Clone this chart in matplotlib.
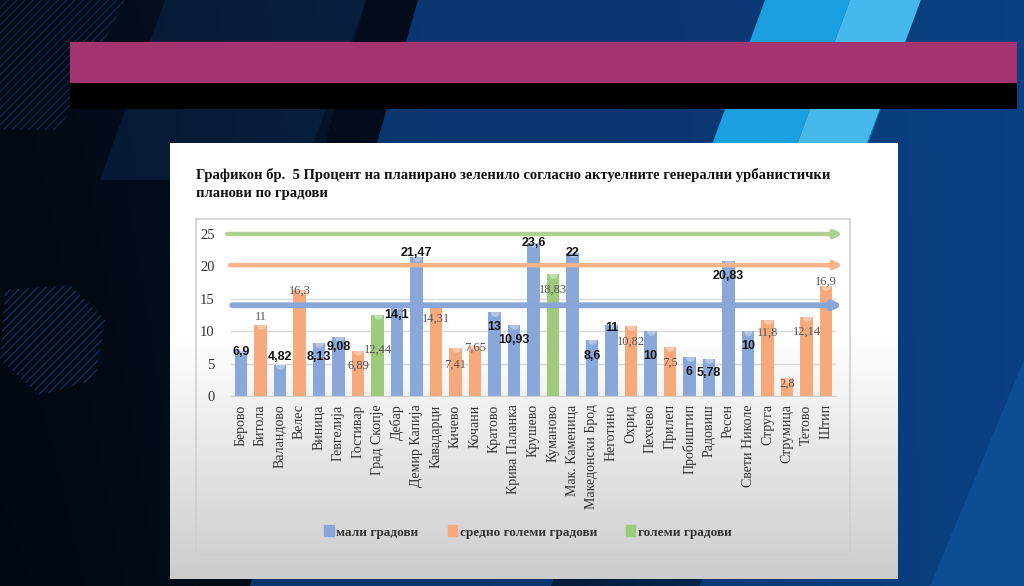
import numpy as np
import matplotlib
matplotlib.use("Agg")
import matplotlib.pyplot as plt
from matplotlib.patches import Polygon, Rectangle, Patch

# data
cities = ['Берово', 'Битола', 'Валандово', 'Велес', 'Виница', 'Гевгелија', 'Гостивар',
          'Град Скопје', 'Дебар', 'Демир Капија', 'Кавадарци', 'Кичево', 'Кочани', 'Кратово',
          'Крива Паланка', 'Крушево', 'Куманово', 'Мак. Каменица', 'Македонски Брод',
          'Неготино', 'Охрид', 'Пехчево', 'Прилеп', 'Пробиштип', 'Радовиш', 'Ресен',
          'Свети Николе', 'Струга', 'Струмица', 'Тетово', 'Штип']
values = [6.9, 11, 4.82, 16.3, 8.13, 9.08, 6.89, 12.44, 14.1, 21.47, 14.31, 7.41, 7.65, 13,
          10.93, 23.6, 18.83, 22, 8.6, 11, 10.82, 10, 7.5, 6, 5.78, 20.83, 10, 11.8, 2.8,
          12.14, 16.9]
# 0 = мали, 1 = средно големи, 2 = големи градови
groups = [0, 1, 0, 1, 0, 0, 1, 2, 0, 0, 1, 1, 1, 0, 0, 0, 2, 0, 0, 0, 1, 0, 1, 0, 0, 0,
          0, 1, 1, 1, 1]
group_names = ['мали градови', 'средно големи градови', 'големи градови']
thresholds = [14, 20.2, 25]   # blue, orange, green arrows

# where the value labels sit
label_y = [6.8, 12.2, 6.0, 16.2, 6.0, 7.5, 4.6, 7.1, 12.5, 22.0, 12.0, 4.9, 7.4, 10.7,
           8.6, 23.6, 16.4, 22.0, 6.2, 10.5, 8.3, 6.2, 5.2, 3.7, 3.5, 18.5, 7.7, 9.7,
           1.9, 9.9, 17.6]

bar_colors = ['#8aa7da', '#f6aa7b', '#9dca7b']
arrow_colors = ['#88a6d8', '#f9b48a', '#b0cf92']

W, H = 1024, 586
fig = plt.figure(figsize=(W / 100, H / 100), dpi=100)

# background (pixel coordinates)
bg = fig.add_axes([0, 0, 1, 1], zorder=0)
bg.set_xlim(0, W)
bg.set_ylim(H, 0)
bg.axis('off')

xx = np.linspace(0, 1, 256)
yy = np.linspace(0, 1, 150)[:, None]
c_left = np.array([0.01, 0.04, 0.09])
c_right = np.array([0.04, 0.24, 0.48])
grad = c_left + (c_right - c_left) * (xx[None, :, None] ** 1.4)
grad = grad * (1 - 0.25 * yy[..., None] * (1 - xx[None, :, None]))
bg.imshow(grad, extent=[0, W, H, 0], aspect='auto', zorder=0)

# diagonal stripes
bg.add_patch(Polygon([(165, 0), (366, 0), (300, 180), (100, 180)], closed=True,
                     color='#0b2b55', alpha=0.45, zorder=1, lw=0))
bg.add_patch(Polygon([(366, 0), (418, 0), (250, 586), (198, 586)], closed=True,
                     color='#020a18', alpha=0.8, zorder=1, lw=0))
bg.add_patch(Polygon([(418, 0), (765, 0), (551, 586), (250, 586)], closed=True,
                     color='#0b3a78', alpha=0.9, zorder=1, lw=0))
bg.add_patch(Polygon([(765, 0), (850, 0), (795, 150), (710, 150)], closed=True,
                     color='#1a9fe0', zorder=1, lw=0))
bg.add_patch(Polygon([(850, 0), (921, 0), (866, 150), (795, 150)], closed=True,
                     color='#45b9ec', zorder=1, lw=0))
bg.add_patch(Polygon([(921, 0), (1024, 0), (1024, 586), (700, 586)], closed=True,
                     color='#0a4288', alpha=0.7, zorder=1, lw=0))
bg.add_patch(Polygon([(1024, 360), (1024, 586), (930, 586)], closed=True,
                     color='#1256a0', alpha=0.6, zorder=1, lw=0))

# faint hatched map shapes on the left
plt.rcParams['hatch.linewidth'] = 1.0
bg.add_patch(Polygon([(0, 0), (125, 0), (60, 130), (0, 130)], closed=True,
                     fill=False, hatch='////', ec='#0c2646', lw=0, zorder=1.5))
bg.add_patch(Polygon([(5, 290), (70, 285), (105, 320), (95, 380), (40, 395), (0, 360)],
                     closed=True, fill=False, hatch='////', ec='#102f55', lw=0, zorder=1.5))

# title bars
bg.add_patch(Rectangle((70, 42), 947, 41, color='#a3346f', zorder=2, lw=0))
bg.add_patch(Rectangle((70, 83), 947, 26, color='#000000', zorder=2, lw=0))

# white panel with grey gradient toward the bottom
pg = np.linspace(0, 1, 200)
shade = np.where(pg < 0.45, 1.0, 1.0 - 0.2 * ((pg - 0.45) / 0.55))
panel = np.repeat(shade[:, None, None], 3, axis=2)
bg.imshow(panel, extent=[170, 898, 579, 143], aspect='auto', zorder=3)
bg.add_patch(Rectangle((196, 219), 654, 335, fill=False, ec='#cfcfcf', lw=1.2, zorder=4))
bg.set_xlim(0, W)
bg.set_ylim(H, 0)

fig.text(196 / W, 1 - 168 / H,
         'Графикон бр.  5 Процент на планирано зеленило согласно актуелните генерални урбанистички\nпланови по градови',
         ha='left', va='top', fontsize=10.5, fontweight='bold', family='Liberation Serif',
         color='#111111', linespacing=1.5)

# chart
ax = fig.add_axes([231.25 / W, 1 - 396 / H, 604.5 / W, 162 / H], zorder=5)
ax.patch.set_alpha(0)
x = np.arange(len(cities))
ax.bar(x, values, width=0.62, color=[bar_colors[g] for g in groups], zorder=2)
# little light caps on top of the cylinders
ax.scatter(x, values, s=40, marker='o', color='white', alpha=0.35, zorder=2.5, lw=0)

for g, t in enumerate(thresholds):
    ax.annotate('', xy=(31.0, t), xytext=(-0.85 + 0.13 * (2 - g), t),
                arrowprops=dict(arrowstyle='-|>', lw=3.2 if g > 0 else 4.2,
                                color=arrow_colors[g], mutation_scale=11),
                annotation_clip=False, zorder=3)

for i, v in enumerate(values):
    txt = f'{v:g}'.replace('.', ',')
    if groups[i] == 0:
        ax.text(i, label_y[i], txt, ha='center', va='center', fontsize=9,
                fontweight='bold', family='Liberation Sans', color='#111111', zorder=4)
    else:
        ax.text(i, label_y[i], txt, ha='center', va='center', fontsize=9,
                family='Liberation Serif', color='#555555', zorder=4)

ax.set_xlim(-0.5, len(cities) - 0.5)
ax.set_ylim(0, 25)
ax.set_yticks([0, 5, 10, 15, 20, 25])
ax.set_xticks(x)
ax.set_xticklabels(cities, rotation=90, family='Liberation Serif', fontsize=10, color='#333333')
ax.tick_params(axis='y', labelsize=10.5, labelcolor='#333333', length=0, pad=12)
ax.tick_params(axis='x', length=0, pad=6)
for lbl in ax.get_yticklabels():
    lbl.set_family('Liberation Serif')
ax.grid(axis='y', color='#d9d9d9', lw=1, zorder=0)
ax.set_axisbelow(True)
for s in ['top', 'right', 'left']:
    ax.spines[s].set_visible(False)
ax.spines['bottom'].set_color('#d0d0d0')

handles = [Patch(color=bar_colors[k], label=group_names[k]) for k in range(3)]
fig.legend(handles=handles, loc='center', bbox_to_anchor=(528 / W, 1 - 532 / H), ncol=3,
           frameon=False, handlelength=0.7, handleheight=0.9, handletextpad=0.2,
           columnspacing=2.2, prop={'family': 'Liberation Serif', 'size': 9.5, 'weight': 'bold'},
           labelcolor='#333333')

fig.savefig('out.png', dpi=100)
